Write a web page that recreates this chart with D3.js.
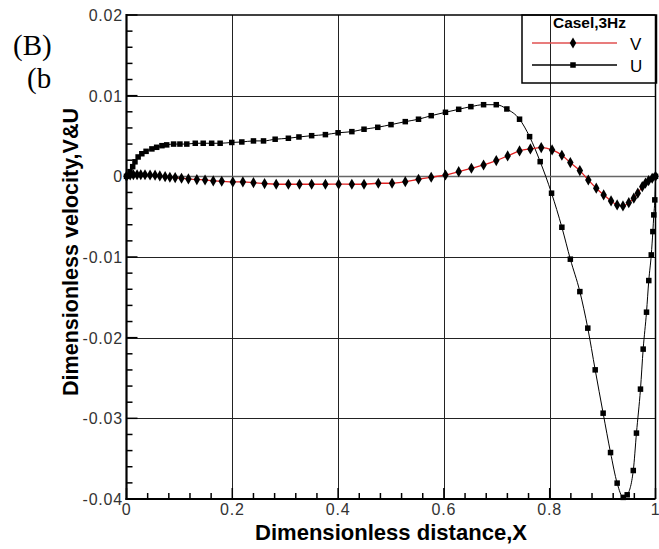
<!DOCTYPE html>
<html>
<head>
<meta charset="utf-8">
<script src="https://cdn.jsdelivr.net/npm/d3@7/dist/d3.min.js"></script>
<style>
  html, body { margin: 0; padding: 0; background: #fff; }
  svg { display: block; }
</style>
</head>
<body>
<div id="chart"></div>
<script>
// --- data ---
const uX = [0, 0.0066, 0.0117, 0.016, 0.022, 0.029, 0.037, 0.048, 0.057, 0.067, 0.076, 0.089,
  0.101, 0.114, 0.130, 0.145, 0.161, 0.177, 0.199, 0.218, 0.240, 0.259, 0.281, 0.306, 0.326,
  0.350, 0.376, 0.400, 0.426, 0.449, 0.475, 0.500, 0.527, 0.552, 0.576, 0.603, 0.628, 0.651,
  0.675, 0.699, 0.719, 0.743, 0.762, 0.782, 0.8035, 0.823, 0.839, 0.857, 0.872, 0.886, 0.901,
  0.915, 0.9275, 0.939, 0.9465, 0.958, 0.964, 0.9716, 0.9767, 0.983, 0.9873, 0.992, 0.995,
  0.9968, 0.9987, 1.0];
const uVal = [0, 0.00058, 0.0012, 0.0018, 0.0024, 0.0028, 0.0031, 0.0034, 0.0036, 0.0038, 0.0039, 0.0040,
  0.0040, 0.0040, 0.0041, 0.0041, 0.0041, 0.0041, 0.0042, 0.00426, 0.00439, 0.00439, 0.0046, 0.00472, 0.00488,
  0.00504, 0.00517, 0.0054, 0.00554, 0.00584, 0.00608, 0.00641, 0.00678, 0.00708, 0.00752, 0.00794, 0.00831, 0.00864,
  0.00888, 0.00888, 0.00835, 0.00708, 0.00492, 0.00182, -0.00209, -0.00631, -0.01027, -0.01429, -0.01882, -0.02399, -0.02936,
  -0.03424, -0.03803, -0.0398, -0.03948, -0.03647, -0.03183, -0.02638, -0.02142, -0.01684, -0.01292, -0.00974, -0.00685,
  -0.00478, -0.00292, 0];

const vX = [0, 0.007, 0.013, 0.020, 0.027, 0.035, 0.0445, 0.054, 0.063, 0.073, 0.082, 0.092,
  0.104, 0.117, 0.133, 0.1485, 0.164, 0.180, 0.201, 0.220, 0.240, 0.261, 0.283, 0.306, 0.327,
  0.350, 0.376, 0.401, 0.426, 0.449, 0.476, 0.502, 0.527, 0.552, 0.576, 0.603, 0.628, 0.652,
  0.675, 0.699, 0.7205, 0.743, 0.7635, 0.784, 0.8045, 0.823, 0.839, 0.857, 0.873, 0.888, 0.902,
  0.916, 0.9275, 0.9385, 0.9495, 0.959, 0.9665, 0.975, 0.981, 0.987, 0.9937, 1.0];
const vVal = [0, 0.00017, 0.0002, 0.0002, 0.0002, 0.0002, 0.00017, 0.00014, 0.00005, -0.00004, -0.00011, -0.00016,
  -0.00024, -0.00032, -0.0004, -0.00045, -0.00057, -0.00061, -0.00069, -0.00069, -0.00078, -0.0009, -0.00098, -0.00098, -0.00098,
  -0.00098, -0.00098, -0.00097, -0.00098, -0.00098, -0.00086, -0.00086, -0.00066, -0.00036, -0.00011, 0.00017, 0.00058, 0.001,
  0.00141, 0.00195, 0.00253, 0.00315, 0.0034, 0.00356, 0.00327, 0.00261, 0.0017, 0.00071, -0.00045, -0.00147, -0.0023,
  -0.00305, -0.00354, -0.00367, -0.00326, -0.00271, -0.00209, -0.00128, -0.00085, -0.00053, -0.00024, 0];

const xTicks = [0, 0.2, 0.4, 0.6, 0.8, 1];
const xTickLabels = ['0', '0.2', '0.4', '0.6', '0.8', '1'];
const yTicks = [0.02, 0.01, 0, -0.01, -0.02, -0.03, -0.04];
const yTickLabels = ['0.02', '0.01', '0', '-0.01', '-0.02', '-0.03', '-0.04'];
const seriesNames = ['V', 'U'];

const W = 659, H = 549;
const plot = { left: 126.5, right: 655.5, top: 15, bottom: 499 };

const svg = d3.select('#chart').append('svg')
  .attr('width', W).attr('height', H)
  .style('font-family', '"Liberation Sans", Arial, sans-serif');

const x = d3.scaleLinear().domain([0, 1]).range([plot.left, plot.right]);
const y = d3.scaleLinear().domain([-0.04, 0.02]).range([plot.bottom, plot.top]);

// gridlines
const grid = svg.append('g');
grid.selectAll('line.gx').data(xTicks.slice(1, -1)).enter().append('line')
  .attr('x1', d => Math.round(x(d)) + 0.5).attr('x2', d => Math.round(x(d)) + 0.5)
  .attr('y1', plot.top).attr('y2', plot.bottom)
  .attr('stroke', '#222').attr('stroke-width', 1);
grid.selectAll('line.gy').data(yTicks.slice(1, -1)).enter().append('line')
  .attr('y1', d => Math.round(y(d)) + 0.5).attr('y2', d => Math.round(y(d)) + 0.5)
  .attr('x1', plot.left).attr('x2', plot.right)
  .attr('stroke', d => d === 0 ? '#666' : '#222').attr('stroke-width', d => d === 0 ? 1.5 : 1);

// minor + major ticks (inward)
const xMinor = d3.range(0, 1.0001, 0.04);
const yMinor = d3.range(-0.04, 0.02001, 0.002);
const ticks = svg.append('g').attr('stroke', '#000');
ticks.selectAll('line.xm').data(xMinor).enter().append('line')
  .attr('x1', d => x(d)).attr('x2', d => x(d))
  .attr('y1', plot.bottom).attr('y2', d => plot.bottom - (Math.abs(d * 5 - Math.round(d * 5)) < 1e-6 ? 11 : 6))
  .attr('stroke-width', 1.5);
ticks.selectAll('line.ym').data(yMinor).enter().append('line')
  .attr('y1', d => y(d)).attr('y2', d => y(d))
  .attr('x1', plot.left).attr('x2', d => plot.left + (Math.abs(d * 100 - Math.round(d * 100)) < 1e-6 ? 11 : 6))
  .attr('stroke-width', 1.5);

// frame
svg.append('line').attr('x1', plot.left).attr('x2', plot.right).attr('y1', plot.top).attr('y2', plot.top)
  .attr('stroke', '#000').attr('stroke-width', 1.5);
svg.append('line').attr('x1', plot.right).attr('x2', plot.right).attr('y1', plot.top).attr('y2', plot.bottom)
  .attr('stroke', '#000').attr('stroke-width', 1.5);
svg.append('line').attr('x1', plot.left).attr('x2', plot.left).attr('y1', plot.top - 1).attr('y2', plot.bottom + 1)
  .attr('stroke', '#000').attr('stroke-width', 2.2);
svg.append('line').attr('x1', plot.left - 1).attr('x2', plot.right).attr('y1', plot.bottom).attr('y2', plot.bottom)
  .attr('stroke', '#000').attr('stroke-width', 2.2);

// tick labels
svg.append('g').selectAll('text').data(xTicks).enter().append('text')
  .attr('x', d => x(d)).attr('y', 515)
  .attr('text-anchor', 'middle').attr('font-size', 16).attr('letter-spacing', 0.8)
  .attr('fill', '#333')
  .text((d, i) => xTickLabels[i]);
svg.append('g').selectAll('text').data(yTicks).enter().append('text')
  .attr('x', 123).attr('y', d => y(d) + 6)
  .attr('text-anchor', 'end').attr('font-size', 16).attr('letter-spacing', 0.8)
  .attr('fill', '#333')
  .text((d, i) => yTickLabels[i]);

// axis titles
svg.append('text').attr('x', 391).attr('y', 540)
  .attr('text-anchor', 'middle').attr('font-size', 22).attr('font-weight', 'bold')
  .attr('textLength', 272).attr('lengthAdjust', 'spacingAndGlyphs')
  .text('Dimensionless distance,X');
svg.append('text').attr('transform', 'translate(78,252) rotate(-90)')
  .attr('text-anchor', 'middle').attr('font-size', 22).attr('font-weight', 'bold')
  .attr('textLength', 288).attr('lengthAdjust', 'spacingAndGlyphs')
  .text('Dimensionless velocity,V&U');

// panel labels
svg.append('text').attr('x', 13).attr('y', 55)
  .attr('font-family', '"Liberation Serif", "Times New Roman", serif').attr('font-size', 29)
  .text('(B)');
svg.append('text').attr('x', 27).attr('y', 88)
  .attr('font-family', '"Liberation Serif", "Times New Roman", serif').attr('font-size', 29)
  .text('(b');

// series
const uData = uX.map((d, i) => ({ x: d, v: uVal[i] }));
const vData = vX.map((d, i) => ({ x: d, v: vVal[i] }));
const line = d3.line().x(d => x(d.x)).y(d => y(d.v)).curve(d3.curveMonotoneX);

svg.append('path').datum(uData).attr('d', line)
  .attr('fill', 'none').attr('stroke', '#000').attr('stroke-width', 1);
svg.append('path').datum(vData).attr('d', line)
  .attr('fill', 'none').attr('stroke', '#e02020').attr('stroke-width', 1.3);

const diamond = d3.symbol().type(d3.symbolDiamond).size(36);
const square = 5.5;

svg.append('g').selectAll('rect').data(uData).enter().append('rect')
  .attr('x', d => x(d.x) - square / 2).attr('y', d => y(d.v) - square / 2)
  .attr('width', square).attr('height', square).attr('fill', '#000');
svg.append('g').selectAll('path').data(vData).enter().append('path')
  .attr('d', diamond).attr('transform', d => `translate(${x(d.x)},${y(d.v)})`)
  .attr('fill', '#000');

// legend
const lg = svg.append('g');
lg.append('rect').attr('x', 522).attr('y', plot.top).attr('width', 134.5).attr('height', 68)
  .attr('fill', 'none').attr('stroke', '#000').attr('stroke-width', 1.5);
lg.append('text').attr('x', 553).attr('y', 27.5)
  .attr('font-size', 14).attr('font-weight', 'bold')
  .attr('textLength', 73).attr('lengthAdjust', 'spacingAndGlyphs')
  .text('Casel,3Hz');
const legendRows = [
  { y: 43, color: '#e05050', mark: 'diamond' },
  { y: 65, color: '#000', mark: 'square' }
];
legendRows.forEach((r, i) => {
  lg.append('line').attr('x1', 532).attr('x2', 617).attr('y1', r.y).attr('y2', r.y)
    .attr('stroke', r.color).attr('stroke-width', 1.3);
  if (r.mark === 'diamond') {
    lg.append('path').attr('d', diamond).attr('transform', `translate(573,${r.y})`).attr('fill', '#000');
  } else {
    lg.append('rect').attr('x', 573 - square / 2).attr('y', r.y - square / 2)
      .attr('width', square).attr('height', square).attr('fill', '#000');
  }
  lg.append('text').attr('x', 630).attr('y', r.y + 6.5)
    .attr('font-size', 17).text(seriesNames[i]);
});
</script>
</body>
</html>
